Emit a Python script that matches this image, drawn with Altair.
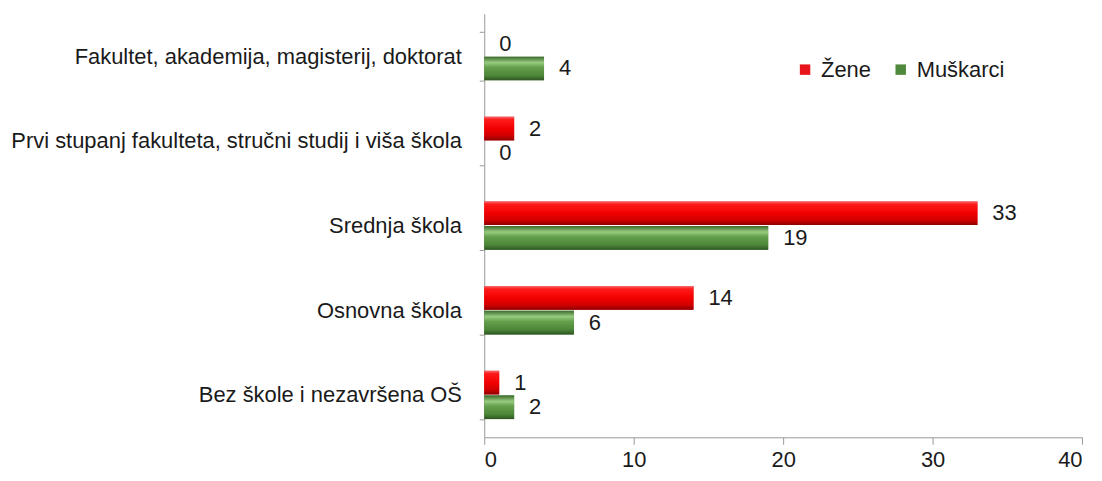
import altair as alt
import pandas as pd

categories = [
    "Fakultet, akademija, magisterij, doktorat",
    "Prvi stupanj fakulteta, stručni studij i viša škola",
    "Srednja škola",
    "Osnovna škola",
    "Bez škole i nezavršena OŠ",
]
series = ["Žene", "Muškarci"]
zene = [0, 2, 33, 14, 1]
muskarci = [4, 0, 19, 6, 2]
x_ticks = [0, 10, 20, 30, 40]

rows = []
for c, z, m in zip(categories, zene, muskarci):
    rows.append({"cat": c, "series": "Žene", "value": z})
    rows.append({"cat": c, "series": "Muškarci", "value": m})
df = pd.DataFrame(rows)

FONT = "Liberation Sans"
TXT = "#1a1a1a"
AX = "#9a9a9a"
RED = "#e8141b"
GREEN = "#4f8a3c"

y = alt.Y(
    "cat:N", sort=categories, title=None,
    scale=alt.Scale(paddingInner=0.43, paddingOuter=0.215),
    axis=alt.Axis(labelFont=FONT, labelFontSize=22, labelColor=TXT, tickBand="extent",
                  tickSize=5, labelPadding=18, domainColor=AX, tickColor=AX,
                  labelLimit=700, grid=False),
)
x = alt.X(
    "value:Q", title=None, scale=alt.Scale(domain=[0, 40], nice=False),
    axis=alt.Axis(values=x_ticks, labelFont=FONT, labelFontSize=22, labelColor=TXT,
                  tickSize=7, labelPadding=5, domainColor=AX, tickColor=AX, grid=False),
)
yoff = alt.YOffset("series:N", sort=series, scale=alt.Scale(domain=series, paddingInner=0.04))

base = alt.Chart(df)

bars = base.mark_bar().encode(
    x=x, y=y, yOffset=yoff,
    color=alt.Color(
        "series:N", sort=series,
        scale=alt.Scale(domain=series, range=[RED, GREEN]),
        legend=alt.Legend(orient="none", legendX=311, legendY=45, direction="horizontal",
                          title=None, symbolType="square", symbolSize=110,
                          labelFont=FONT, labelFontSize=22, labelColor=TXT,
                          columnPadding=18, labelOffset=5, symbolStrokeWidth=0),
    ),
)

red_grad = alt.LinearGradient(
    gradient="linear", x1=0, y1=0, x2=0, y2=1,
    stops=[
        alt.GradientStop(offset=0.0, color="#f46a6a"),
        alt.GradientStop(offset=0.12, color="#ff1a1a"),
        alt.GradientStop(offset=0.5, color="#f20000"),
        alt.GradientStop(offset=0.8, color="#d00000"),
        alt.GradientStop(offset=1.0, color="#8c0000"),
    ],
)
green_grad = alt.LinearGradient(
    gradient="linear", x1=0, y1=0, x2=0, y2=1,
    stops=[
        alt.GradientStop(offset=0.0, color="#3b6a2c"),
        alt.GradientStop(offset=0.25, color="#98cc80"),
        alt.GradientStop(offset=0.45, color="#64a04c"),
        alt.GradientStop(offset=0.8, color="#4c8638"),
        alt.GradientStop(offset=1.0, color="#2f5522"),
    ],
)

red_bars = base.transform_filter(alt.datum.series == "Žene").mark_bar(color=red_grad).encode(
    x=x, y=y, yOffset=yoff)
green_bars = base.transform_filter(alt.datum.series == "Muškarci").mark_bar(color=green_grad).encode(
    x=x, y=y, yOffset=yoff)

labels = base.mark_text(align="left", baseline="middle", dx=15, font=FONT,
                        fontSize=22, color=TXT).encode(
    x=x, y=y, yOffset=yoff, text=alt.Text("value:Q"))

chart = alt.layer(bars, red_bars, green_bars, labels).properties(
    width=600, height=425,
    autosize=alt.AutoSizeParams(type="none"),
    padding={"left": 478, "top": 5, "right": 12, "bottom": 40},
).configure_view(stroke=None)

chart.save("out.html", embed_options={"renderer": "svg", "actions": False})
